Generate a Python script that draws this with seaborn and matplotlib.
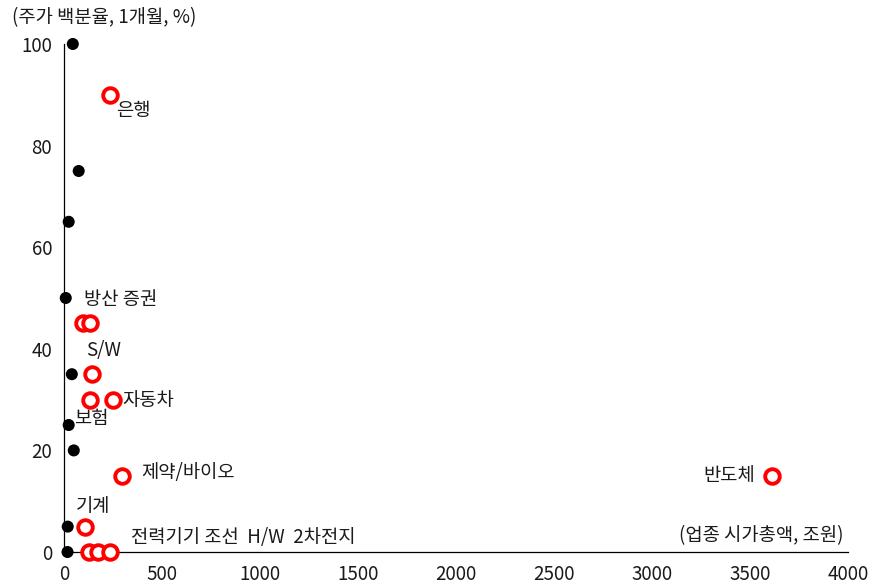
import numpy as np
import pandas as pd
import matplotlib
matplotlib.use("Agg")
import matplotlib.pyplot as plt
import seaborn as sns

# black dots (other sectors)
base_cap = [45, 75, 24, 9, 40, 24, 50, 19, 18]
base_pct = [100, 75, 65, 50, 35, 25, 20, 5, 0]

# red rings (highlighted sectors)
hl_cap = [235, 97, 133, 143, 133, 250, 296, 107, 128, 173, 235, 3612]
hl_pct = [90, 45, 45, 35, 30, 30, 15, 5, 0, 0, 0, 15]

# sector labels and where they sit (data coords)
labels = ["은행", "방산 증권", "S/W", "자동차", "보험", "제약/바이오", "기계",
          "전력기기 조선  H/W  2차전지", "반도체"]
label_x = [268, 102, 112, 300, 51, 393, 61, 342, 3525]
label_y = [87.0, 49.8, 39.6, 29.8, 26.2, 15.6, 9, 2.8, 15]
label_ha = ["left", "left", "left", "left", "left", "left", "left", "left", "right"]

sns.set_style("white")
plt.rcParams['font.family'] = ['Noto Sans CJK KR', 'DejaVu Sans']

base_df = pd.DataFrame({"cap": base_cap, "pct": base_pct})
hl_df = pd.DataFrame({"cap": hl_cap, "pct": hl_pct})

fig = plt.figure(figsize=(8.73, 5.88), dpi=100)
ax = fig.add_axes([0.0733, 0.0612, 0.898, 0.864])

sns.scatterplot(data=base_df, x="cap", y="pct", ax=ax, color="black",
                s=75, edgecolor="none", clip_on=False, zorder=3)
sns.scatterplot(data=hl_df, x="cap", y="pct", ax=ax, facecolor="white",
                edgecolor="#ff0000", linewidth=2.8, s=110, clip_on=False, zorder=4)

txt = "#1a1a1a"
for t, x, y, ha in zip(labels, label_x, label_y, label_ha):
    ax.text(x, y, t, fontsize=13.5, ha=ha, va="center", color=txt)

ax.set_xlim(0, 4000)
ax.set_ylim(0, 100)
ax.set_xticks(np.arange(0, 4001, 500))
ax.set_yticks(np.arange(0, 101, 20))
ax.set_xlabel("")
ax.set_ylabel("")
ax.tick_params(axis="both", labelsize=13.5, colors="black", labelcolor=txt,
               length=5, width=0.8, direction="out")
for s in ["top", "right"]:
    ax.spines[s].set_visible(False)
for s in ["left", "bottom"]:
    ax.spines[s].set_color("black")
    ax.spines[s].set_linewidth(0.9)

fig.text(12 / 873, 1 - 18 / 588, "(주가 백분율, 1개월, %)", fontsize=13.5,
         ha="left", va="center", color=txt)
ax.text(3975, 3.2, "(업종 시가총액, 조원)", fontsize=13.5, ha="right", va="center",
        color=txt)

fig.savefig("out.png", dpi=100)
